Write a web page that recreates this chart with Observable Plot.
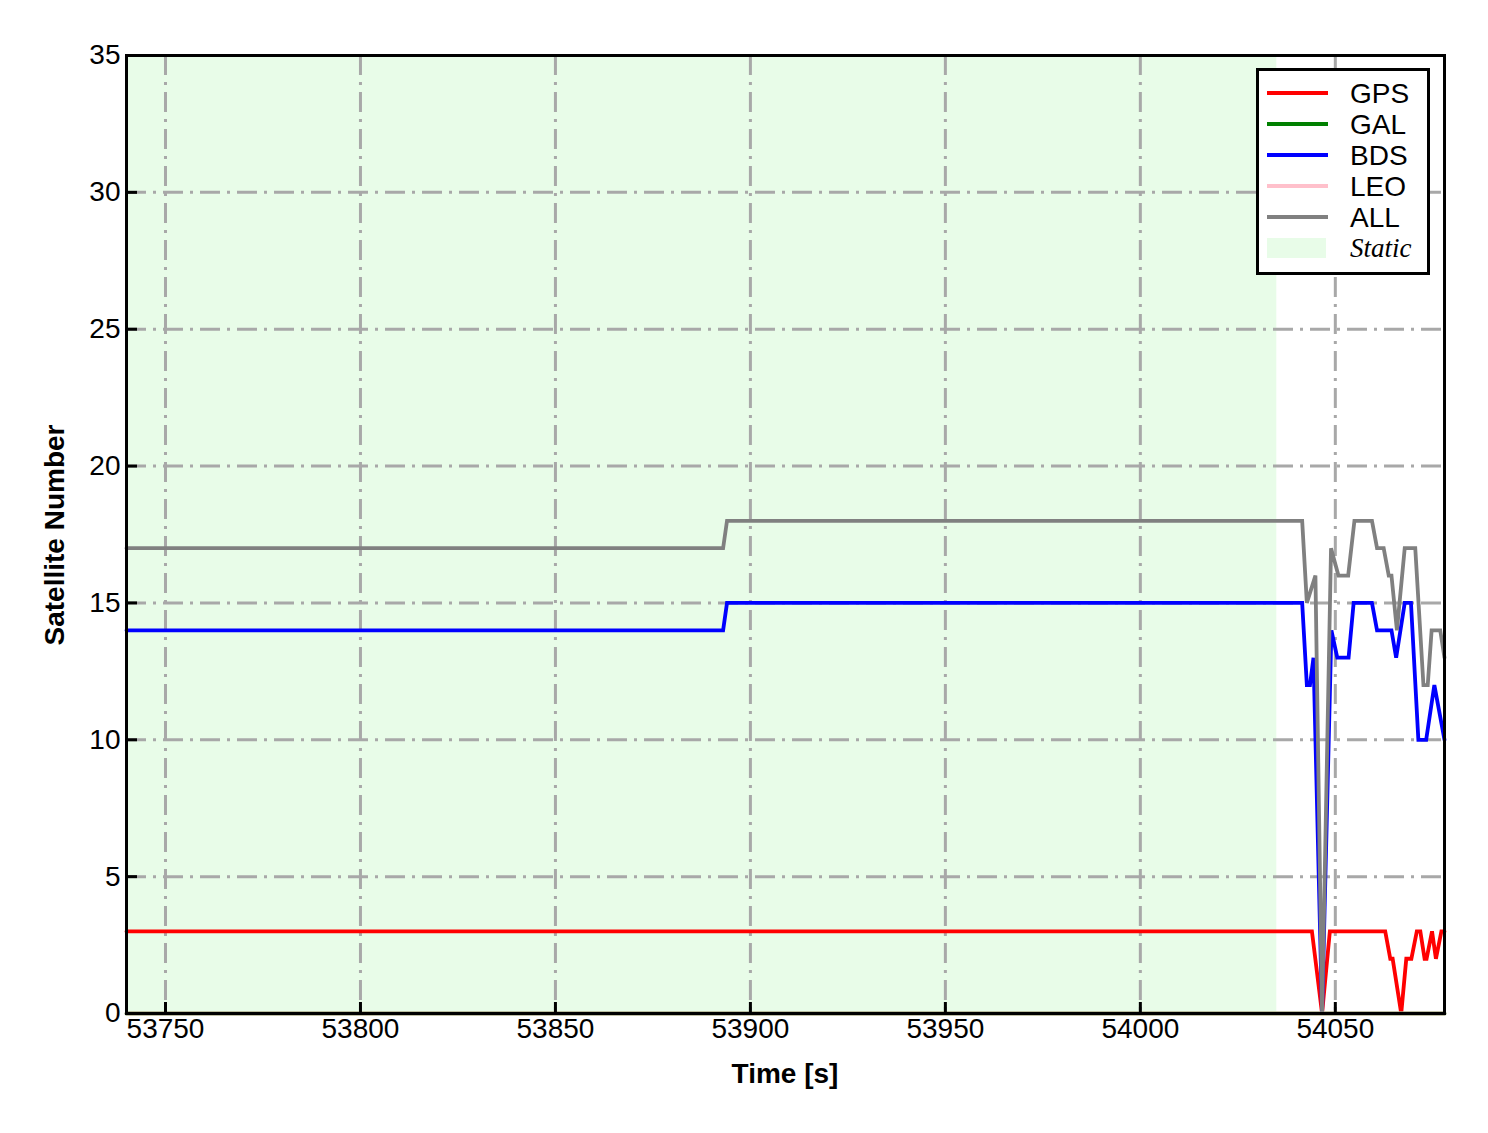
<!DOCTYPE html>
<html>
<head>
<meta charset="utf-8">
<script src="https://cdn.jsdelivr.net/npm/d3@7"></script>
<script src="https://cdn.jsdelivr.net/npm/@observablehq/plot@0.6"></script>
<style>
  body { margin: 0; background: white; }
  #wrap { position: relative; width: 1488px; height: 1133px; font-family: "Liberation Sans", Arial, sans-serif; }
  #xtitle { position: absolute; left: 585px; width: 400px; top: 1058px; text-align: center; font-weight: bold; font-size: 28px; }
  #ytitle { position: absolute; left: 55px; top: 535px; transform: translate(-50%, -50%) rotate(-90deg); font-weight: bold; font-size: 28px; white-space: nowrap; }
  #legend { position: absolute; left: 1256px; top: 68px; width: 168px; height: 201px; border: 3px solid black; background: white; }
  .row { position: absolute; left: 8px; height: 31px; width: 160px; }
  .sw { position: absolute; left: 0; top: 13px; width: 61px; height: 4px; }
  .lab { position: absolute; left: 83px; top: 0; font-size: 28px; line-height: 31px; }
</style>
</head>
<body>
<div id="wrap">
  <div id="chart"></div>
  <div id="xtitle">Time [s]</div>
  <div id="ytitle">Satellite Number</div>
  <div id="legend"></div>
</div>
<script>
// ---- data ----
const xTicks = [53750, 53800, 53850, 53900, 53950, 54000, 54050];
const yTicks = [0, 5, 10, 15, 20, 25, 30, 35];
const xDomain = [53740, 54078];
const yDomain = [0, 35];

const staticStart = [53740];
const staticEnd = [54035];

const gpsTime = [53740, 54044, 54046.6, 54048.6, 54062.8, 54064.1, 54064.7, 54066.9, 54068.2, 54069.5, 54070.9, 54071.8, 54072.9, 54073.4, 54074.8, 54075.8, 54077.2, 54078];
const gpsSats = [3, 3, 0, 3, 3, 2, 2, 0, 2, 2, 3, 3, 2, 2, 3, 2, 3, 3];

const galTime = [53740, 54078];
const galSats = [0, 0];

const bdsTime = [53740, 53893, 53894, 54041.5, 54042.7, 54043.5, 54044.4, 54046.6, 54049.0, 54050.5, 54053.4, 54054.7, 54059.4, 54060.7, 54064.4, 54065.6, 54067.8, 54069.4, 54071.3, 54073.3, 54075.4, 54078];
const bdsSats = [14, 14, 15, 15, 12, 12, 13, 0, 14, 13, 13, 15, 15, 14, 14, 13, 15, 15, 10, 10, 12, 10];

const leoTime = [53740, 54078];
const leoSats = [0, 0];

const allTime = [53740, 53893, 53894, 54041.5, 54042.7, 54044.9, 54046.6, 54048.9, 54050.8, 54053.3, 54054.9, 54059.4, 54060.7, 54062.4, 54063.7, 54064.4, 54065.8, 54067.8, 54070.5, 54072.6, 54073.7, 54074.7, 54076.9, 54078];
const allSats = [17, 17, 18, 18, 15, 16, 0, 17, 16, 16, 18, 18, 17, 17, 16, 16, 14, 17, 17, 12, 12, 14, 14, 13];

const seriesNames = ["GPS", "GAL", "BDS", "LEO", "ALL"];
const seriesColors = ["#ff0000", "#008000", "#0000ff", "#ffc0cb", "#808080"];
const staticLabel = "Static";
const staticColor = "#e8fce8";

// ---- build tables ----
const zipSeries = (t, v) => t.map((x, i) => ({t: x, n: v[i]}));
const series = [
  zipSeries(gpsTime, gpsSats),
  zipSeries(galTime, galSats),
  zipSeries(bdsTime, bdsSats),
  zipSeries(leoTime, leoSats),
  zipSeries(allTime, allSats)
];
const staticRegions = staticStart.map((s, i) => ({x1: s, x2: staticEnd[i]}));

const W = 1488, H = 1133;
const mL = 126, mR = 44, mT = 55, mB = 120;
const frameW = W - mL - mR, frameH = H - mT - mB;
const gridStyle = {stroke: "#a8a8a8", strokeOpacity: 1, strokeWidth: 3, strokeDasharray: "20,7,3,7"};

const chart = Plot.plot({
  width: W, height: H,
  marginLeft: mL, marginRight: mR, marginTop: mT, marginBottom: mB,
  style: {fontFamily: "'Liberation Sans', Arial, sans-serif", fontSize: "28px", color: "black", background: "white", overflow: "visible"},
  x: {domain: xDomain},
  y: {domain: yDomain},
  marks: [
    Plot.rect(staticRegions, {x1: "x1", x2: "x2", fill: staticColor}),
    Plot.gridX(xTicks, gridStyle),
    Plot.gridY(yTicks, gridStyle),
    ...series.map((d, i) => Plot.line(d, {x: "t", y: "n", stroke: seriesColors[i], strokeWidth: 3.8, strokeLinejoin: "miter", strokeMiterlimit: 4})),
    Plot.tickX(xTicks, {x: d => d, stroke: "black", strokeWidth: 3, insetTop: frameH - 11}),
    Plot.tickY(yTicks, {y: d => d, stroke: "black", strokeWidth: 3, insetRight: frameW - 11}),
    Plot.axisX(xTicks, {tickSize: 0, tickPadding: 5, tickFormat: d => String(d), label: null}),
    Plot.axisY(yTicks, {tickSize: 0, tickPadding: 6, tickFormat: d => String(d), label: null}),
    Plot.frame({stroke: "black", strokeWidth: 3})
  ]
});
document.getElementById("chart").appendChild(chart);

// ---- legend ----
const legend = document.getElementById("legend");
seriesNames.forEach((name, i) => {
  const row = document.createElement("div");
  row.className = "row";
  row.style.top = (7 + i * 31) + "px";
  row.innerHTML = `<div class="sw" style="background:${seriesColors[i]}"></div><div class="lab">${name}</div>`;
  legend.appendChild(row);
});
const srow = document.createElement("div");
srow.className = "row";
srow.style.top = (7 + 5 * 31) + "px";
srow.innerHTML = `<div class="sw" style="background:${staticColor};top:5px;height:20px;width:59px"></div><div class="lab" style="font-family:'Liberation Serif','Times New Roman',serif;font-style:italic;font-size:27px">${staticLabel}</div>`;
legend.appendChild(srow);
</script>
</body>
</html>
